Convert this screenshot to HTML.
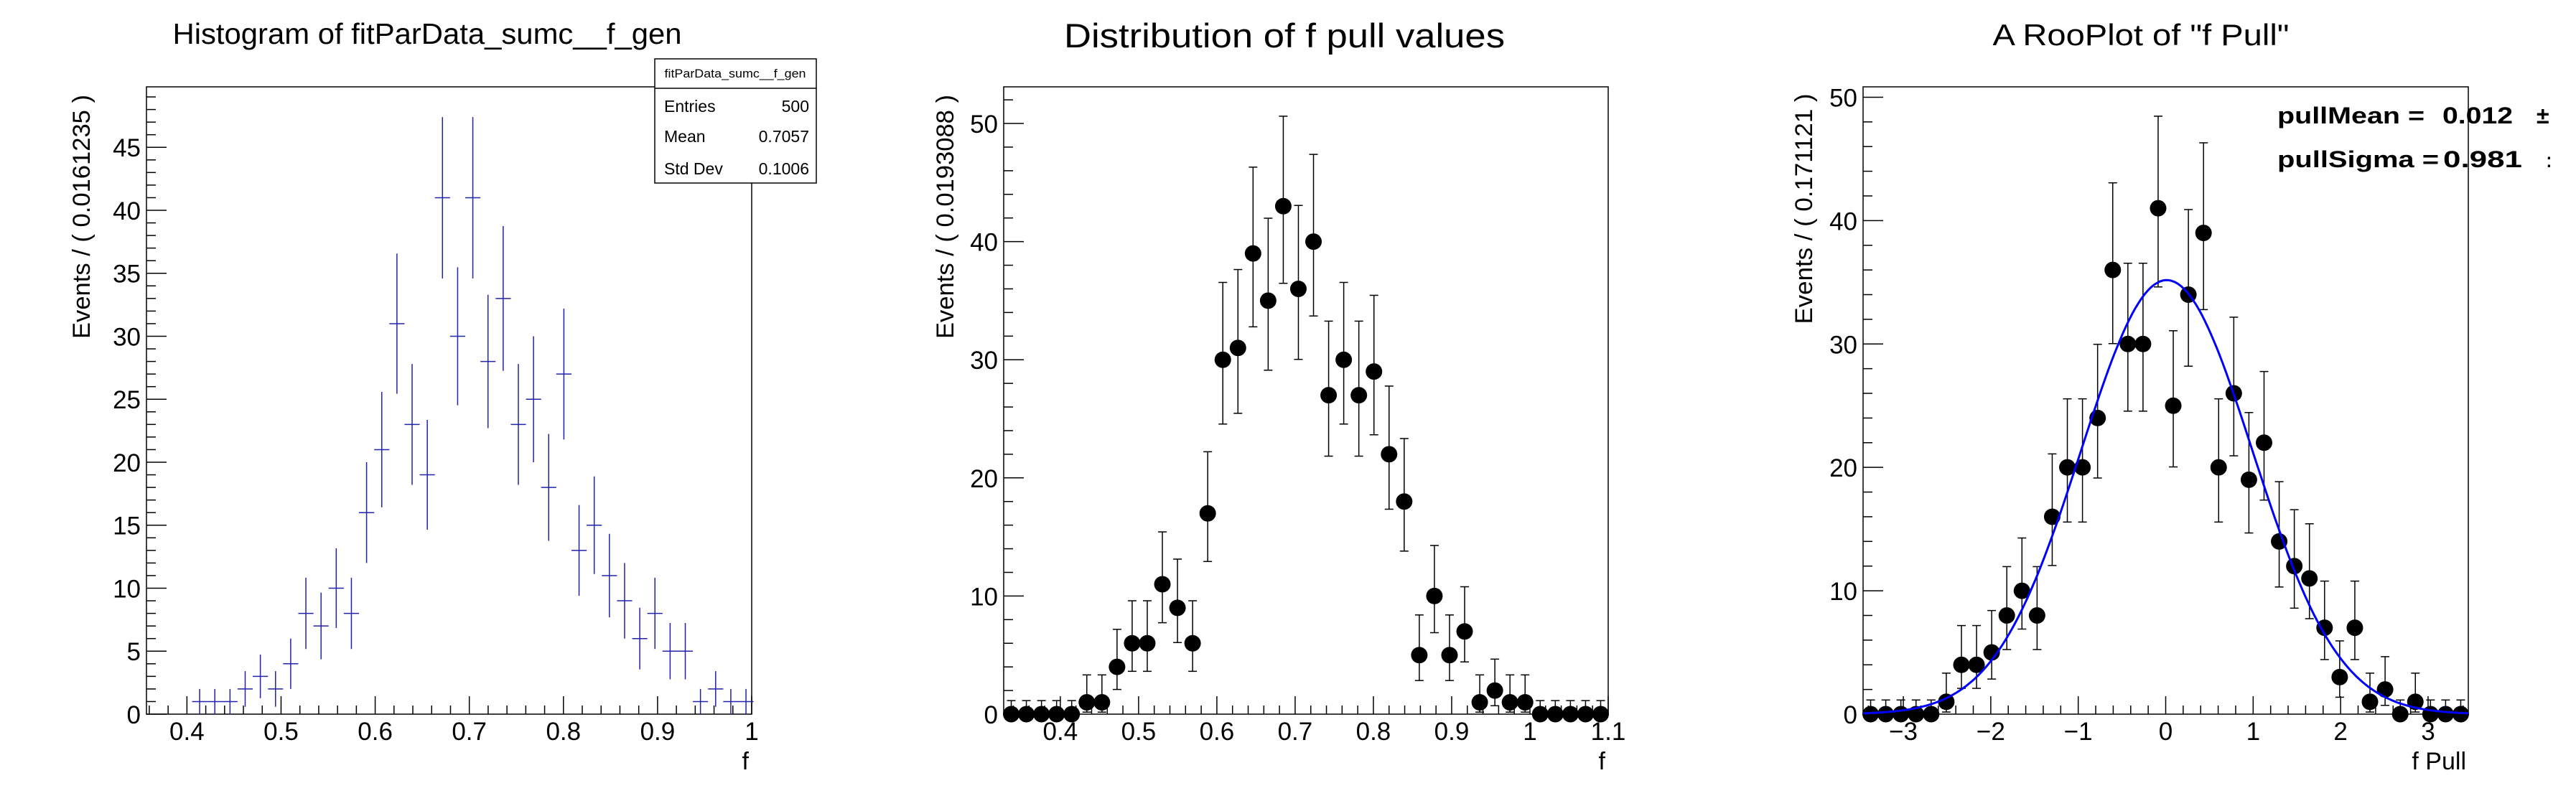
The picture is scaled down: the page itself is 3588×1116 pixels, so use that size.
<!DOCTYPE html>
<html><head><meta charset="utf-8"><style>
html,body{margin:0;padding:0;background:#fff;}
svg{display:block;}
text{font-family:"Liberation Sans",Arial,sans-serif;fill:#000;}
</style></head><body>
<svg id="s" xmlns="http://www.w3.org/2000/svg" width="3588" height="1116" viewBox="0 0 3588 1116">
<rect width="3588" height="1116" fill="#fff"/>
<defs><clipPath id="cp3"><rect x="2392" y="0" width="1160" height="1116"/></clipPath></defs>
<text x="595" y="61" font-size="41" text-anchor="middle" textLength="709" lengthAdjust="spacingAndGlyphs">Histogram of fitParData_sumc__f_gen</text>
<text x="1789" y="66" font-size="47" text-anchor="middle" textLength="614" lengthAdjust="spacingAndGlyphs">Distribution of f pull values</text>
<text x="2982" y="63" font-size="42" text-anchor="middle" textLength="413" lengthAdjust="spacingAndGlyphs">A RooPlot of "f Pull"</text>
<text transform="translate(125,302) rotate(-90)" font-size="34" text-anchor="middle" textLength="340" lengthAdjust="spacingAndGlyphs">Events / ( 0.0161235 )</text>
<text transform="translate(1328,302) rotate(-90)" font-size="34" text-anchor="middle" textLength="340" lengthAdjust="spacingAndGlyphs">Events / ( 0.0193088 )</text>
<text transform="translate(2524,291) rotate(-90)" font-size="34" text-anchor="middle" textLength="321" lengthAdjust="spacingAndGlyphs">Events / ( 0.171121 )</text>
<text x="1043" y="1072" font-size="34" text-anchor="end">f</text>
<text x="2236" y="1072" font-size="34" text-anchor="end">f</text>
<text x="3435" y="1072" font-size="34" text-anchor="end">f Pull</text>
<g id="g"></g>
<g clip-path="url(#cp3)" font-weight="bold">
<text x="3172" y="172" font-size="32" font-weight="bold" textLength="205" lengthAdjust="spacingAndGlyphs">pullMean =</text>
<text x="3402" y="172" font-size="32" font-weight="bold" textLength="98" lengthAdjust="spacingAndGlyphs">0.012</text>
<text x="3533" y="172" font-size="32">±</text>
<text x="3172" y="233" font-size="32" font-weight="bold" textLength="225" lengthAdjust="spacingAndGlyphs">pullSigma =</text>
<text x="3403" y="233" font-size="32" font-weight="bold" textLength="110" lengthAdjust="spacingAndGlyphs">0.981</text>
<text x="3548" y="233" font-size="32">±</text>
</g>
<rect x="912" y="82" width="225" height="173" fill="#fff" stroke="#000" stroke-width="1.5"/>
<line x1="912" y1="123" x2="1137" y2="123" stroke="#000" stroke-width="1.5"/>
<text x="1024" y="108" font-size="17" text-anchor="middle" textLength="197" lengthAdjust="spacingAndGlyphs">fitParData_sumc__f_gen</text>
<text x="925" y="156" font-size="23">Entries</text><text x="1127" y="156" font-size="23" text-anchor="end">500</text>
<text x="925" y="198" font-size="23">Mean</text><text x="1127" y="198" font-size="23" text-anchor="end">0.7057</text>
<text x="925" y="243" font-size="23">Std Dev</text><text x="1127" y="243" font-size="23" text-anchor="end">0.1006</text>
</svg>
<script>
var NS="http://www.w3.org/2000/svg",G=document.getElementById("g");
function el(t,a){var e=document.createElementNS(NS,t);for(var k in a)e.setAttribute(k,a[k]);G.appendChild(e);return e;}
function ln(x1,y1,x2,y2,c,w){el("line",{x1:x1,y1:y1,x2:x2,y2:y2,stroke:c||"#000","stroke-width":w||1.5});}
function txt(x,y,s,anc,fs){var t=el("text",{x:x,y:y,"font-size":fs||35,"text-anchor":anc});t.textContent=s;}
function axes(P){
 var L=P.L,R=P.R,T=121,B=995;
 el("rect",{x:L,y:T,width:R-L,height:B-T,fill:"none",stroke:"#000","stroke-width":1.5});
 P.sx=function(v){return L+(v-P.x0)/(P.x1-P.x0)*(R-L);};
 P.sy=function(v){return B-v/P.ymax*(B-T);};
 var eps=1e-9;
 for(var v=Math.ceil((P.x0-eps)/P.xmn)*P.xmn;v<=P.x1+eps;v+=P.xmn){
  var maj=Math.abs(v/P.xmj-Math.round(v/P.xmj))<1e-6;var x=P.sx(v);
  ln(x,B,x,B-(maj?25:12));
  if(maj)txt(x,1031,P.xf(v),"middle",35);
 }
 for(var v=0;v<=P.ymax+eps;v+=P.ymn){
  var maj=Math.abs(v/P.ymj-Math.round(v/P.ymj))<1e-6;var y=P.sy(v);
  ln(L,y,L+(maj?28:13),y);
  if(maj)txt(L-8,y+13,String(Math.round(v)),"end",35);
 }
}
function perr(n){if(n==0)return[0,1.148];var lo=n*Math.pow(1-1/(9*n)-1/(3*Math.sqrt(n)),3);return[n-lo,Math.sqrt(n+0.75)+1];}
// Panel 1
var P1={L:204,R:1047,x0:0.357,x1:1.0,ymax:49.8,xmj:0.1,xmn:0.02,ymj:5,ymn:1,xf:function(v){return Math.abs(v-1)<1e-6?"1":v.toFixed(1);}};
axes(P1);
var d1=[1,1,1,2,3,2,4,8,7,10,8,16,21,31,23,19,41,30,41,28,33,23,25,18,27,13,15,11,9,6,8,5,5,1,2,1,1];
var bw1=0.0161235;
d1.forEach(function(n,i){var c=0.4135+i*bw1,x=P1.sx(c),y=P1.sy(n),e=Math.sqrt(n);
 var col="#2222aa";
 ln(P1.sx(c-bw1/2),y,P1.sx(c+bw1/2),y,col,1.5);
 ln(x,P1.sy(n+e),x,P1.sy(Math.max(0,n-e)),col,1.5);
});
// Panel 2
var P2={L:1398,R:2240,x0:0.327648,x1:1.1,ymax:53.1,xmj:0.1,xmn:0.02,ymj:10,ymn:2,xf:function(v){return Math.abs(v-1)<1e-6?"1":v.toFixed(1);}};
axes(P2);
var d2=[0,0,0,0,0,1,1,4,6,6,11,9,6,17,30,31,39,35,43,36,40,27,30,27,29,22,18,5,10,5,7,1,2,1,1,0,0,0,0,0];
var bw2=(1.1-0.327648)/40;
function pts(P,d,bw){d.forEach(function(n,i){var c=P.x0+(i+0.5)*bw,x=P.sx(c),e=perr(n);
 var y1=P.sy(n+e[1]),y2=P.sy(n-e[0]);
 ln(x,y1,x,y2,"#000",1.5);ln(x-6,y1,x+6,y1,"#000",1.5);ln(x-6,y2,x+6,y2,"#000",1.5);
 el("circle",{cx:x,cy:P.sy(n),r:11.5,fill:"#000"});
});}
pts(P2,d2,bw2);
// Panel 3
var P3={L:2595,R:3438,x0:-3.46,x1:3.46,ymax:50.84,xmj:1,xmn:0.2,ymj:10,ymn:2,xf:function(v){var r=Math.round(v);return r<0?"\u2212"+(-r):String(r);}};
axes(P3);
var d3=[0,0,0,0,0,1,4,4,5,8,10,8,16,20,20,24,36,30,30,41,25,34,39,20,26,19,22,14,12,11,7,3,7,1,2,0,1,0,0,0];
var bw3=6.92/40;
pts(P3,d3,bw3);
var pth="";for(var i=0;i<=200;i++){var v=-3.46+i*6.92/200;var f=500*bw3/(0.981*Math.sqrt(2*Math.PI))*Math.exp(-0.5*Math.pow((v-0.012)/0.981,2));pth+=(i?"L":"M")+P3.sx(v).toFixed(1)+","+P3.sy(f).toFixed(1);}
el("path",{d:pth,fill:"none",stroke:"#0000ff","stroke-width":3});
</script>
</body></html>
